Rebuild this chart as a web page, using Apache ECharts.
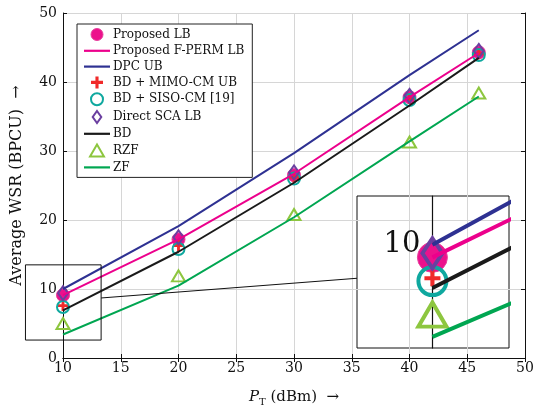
<!DOCTYPE html>
<html><head><meta charset="utf-8">
<script src="https://cdn.jsdelivr.net/npm/echarts@6/dist/echarts.min.js"></script>
<style>html,body{margin:0;padding:0;background:#fff}#c{width:535px;height:408px}</style>
</head><body><div id="c"></div>
<script>
// ---- data ----
const powers = [10, 20, 30, 40, 46];
const dpcUB = [10.0, 19.1, 29.7, 41.0, 47.5];
const fpermLB = [9.1, 17.2, 26.7, 37.8, 44.2];
const proposedLB = [9.1, 17.2, 26.5, 37.8, 44.3];
const mimoUB = [7.6, 16.3, 26.2, 37.6, 44.1];
const sisoCM = [7.4, 15.8, 26.0, 37.4, 43.9];
const directSCA = [9.4, 17.5, 26.9, 38.0, 44.5];
const bd = [6.9, 15.4, 25.4, 36.6, 43.5];
const rzf = [5.0, 11.9, 20.8, 31.3, 38.4];
const zf = [3.4, 10.5, 20.4, 31.4, 37.9];
const xRange = [10, 50], xStep = 5;
const yRange = [0, 50], yStep = 10;
const spyX = [6.75, 13.3];
const spyY = [2.6, 13.5];
const spyLabel = [10];
const spyLinkMain = [13.3, 8.7];
const spyLinkInset = [6.75, 7.6];

const FONT = 'DejaVu Serif';
const crossPath = 'path://M-1.3,-5H1.3V-1.3H5V1.3H1.3V5H-1.3V1.3H-5V-1.3H-1.3Z';
const triPath = 'path://M0,-5L5.8,5H-5.8Z';
const diaPath = 'path://M0,-7L5,0L0,7L-5,0Z';
const linePath = 'path://M0,0H26V2.2H0Z';
function pts(arr) { return powers.map((p, i) => [p, arr[i]]); }

const specs = [
  {name: 'Proposed LB', kind: 'marker', data: proposedLB, symbol: 'circle', icon: 'circle', size: [13, 13], isize: [30, 30], fill: '#ec118c', stroke: '#e8409e', bw: 1, ibw: 1},
  {name: 'Proposed F-PERM LB', kind: 'line', data: fpermLB, color: '#ec008c'},
  {name: 'DPC UB', kind: 'line', data: dpcUB, color: '#2e3192'},
  {name: 'BD + MIMO-CM UB', kind: 'marker', data: mimoUB, symbol: crossPath, icon: crossPath, size: [11, 11], isize: [16, 16], fill: '#f02a2a', stroke: '#f02a2a', bw: 0, ibw: 0},
  {name: 'BD + SISO-CM [19]', kind: 'marker', data: sisoCM, symbol: 'circle', icon: 'circle', size: [12, 12], isize: [28, 28], fill: 'rgba(0,0,0,0)', stroke: '#0fa89f', bw: 2, ibw: 4},
  {name: 'Direct SCA LB', kind: 'marker', data: directSCA, symbol: 'diamond', icon: diaPath, size: [10, 14], isize: [20, 30], fill: 'rgba(0,0,0,0)', stroke: '#6b3fa0', bw: 2, ibw: 4},
  {name: 'BD', kind: 'line', data: bd, color: '#1a1a1a'},
  {name: 'RZF', kind: 'marker', data: rzf, symbol: 'triangle', icon: triPath, size: [13, 11], isize: [28, 24], fill: 'rgba(0,0,0,0)', stroke: '#8dc63f', bw: 2, ibw: 4},
  {name: 'ZF', kind: 'line', data: zf, color: '#00a651'}
];

function makeSeries(s, inset) {
  const base = {
    name: s.name,
    xAxisIndex: inset ? 2 : 0,
    yAxisIndex: inset ? 2 : 0,
    data: pts(s.data),
    silent: true,
    animation: false,
    clip: true
  };
  if (s.kind === 'line') {
    return Object.assign(base, {
      type: 'line', symbol: 'none', showSymbol: false,
      lineStyle: {color: s.color, width: inset ? 4 : 2},
      itemStyle: {color: s.color}
    });
  }
  return Object.assign(base, {
    type: 'scatter', symbol: s.symbol, symbolKeepAspect: true,
    symbolSize: inset ? s.isize : s.size,
    itemStyle: {color: s.fill, borderColor: s.stroke, borderWidth: inset ? s.ibw : s.bw, opacity: 1}
  });
}

const series = specs.map(s => makeSeries(s, false)).concat(specs.map(s => makeSeries(s, true)));

const tickFont = {fontFamily: FONT, fontSize: 14, color: '#111'};

const legendData = specs.map(s => s.kind === 'line'
  ? {name: s.name, icon: linePath, itemStyle: {color: s.color, borderWidth: 0}}
  : {name: s.name, icon: s.icon, itemStyle: {color: s.fill, borderColor: s.stroke, borderWidth: s.bw}});

const chart = echarts.init(document.getElementById('c'), null, {renderer: 'canvas'});
chart.setOption({
  backgroundColor: '#fff',
  animation: false,
  textStyle: {fontFamily: FONT},
  grid: [
    {left: 63, right: 10, top: 13, bottom: 50, show: false, outerBoundsMode: 'none', containLabel: false},
    {left: 357, top: 196, width: 152, height: 152, show: true, borderColor: '#111', borderWidth: 1, backgroundColor: 'rgba(0,0,0,0)', outerBoundsMode: 'none', containLabel: false}
  ],
  legend: {
    orient: 'vertical', left: 77, top: 24,
    padding: [4, 8, 4, 7],
    itemWidth: 26, itemHeight: 12, itemGap: 3.8,
    symbolKeepAspect: true,
    backgroundColor: '#fff', borderColor: '#222', borderWidth: 1, borderRadius: 0,
    textStyle: {fontFamily: FONT, fontSize: 12, color: '#111', padding: [0, 0, 0, -2]},
    data: legendData,
    selectedMode: false
  },
  xAxis: [
    {type: 'value', gridIndex: 0, min: xRange[0], max: xRange[1], interval: xStep, position: 'bottom',
     name: '{i|P}{s|T} (dBm)  →', nameLocation: 'middle', nameGap: 30,
     nameTextStyle: {fontFamily: FONT, fontSize: 15, color: '#111',
       rich: {i: {fontFamily: FONT, fontSize: 15, fontStyle: 'italic', color: '#111'},
              s: {fontFamily: FONT, fontSize: 10, color: '#111', padding: [9, 0, 0, 0]}}},
     axisLine: {show: true, lineStyle: {color: '#111', width: 1}},
     axisTick: {show: true, inside: true, length: 4, lineStyle: {color: '#111'}},
     axisLabel: Object.assign({margin: 3}, tickFont),
     splitLine: {show: true, lineStyle: {color: '#d6d6d6', width: 1}}},
    {type: 'value', gridIndex: 0, min: xRange[0], max: xRange[1], interval: xStep, position: 'top',
     axisLine: {show: true, lineStyle: {color: '#111', width: 1}},
     axisTick: {show: true, inside: true, length: 4, lineStyle: {color: '#111'}},
     axisLabel: {show: false}, splitLine: {show: false}},
    {type: 'value', gridIndex: 1, min: spyX[0], max: spyX[1], show: false}
  ],
  yAxis: [
    {type: 'value', gridIndex: 0, min: yRange[0], max: yRange[1], interval: yStep, position: 'left',
     name: 'Average WSR (BPCU)  →', nameLocation: 'middle', nameGap: 38, nameRotate: 90,
     nameTextStyle: {fontFamily: FONT, fontSize: 16, color: '#111'},
     axisLine: {show: true, lineStyle: {color: '#111', width: 1}},
     axisTick: {show: true, inside: true, length: 4, lineStyle: {color: '#111'}},
     axisLabel: Object.assign({margin: 6}, tickFont),
     splitLine: {show: true, lineStyle: {color: '#d6d6d6', width: 1}}},
    {type: 'value', gridIndex: 0, min: yRange[0], max: yRange[1], interval: yStep, position: 'right',
     axisLine: {show: true, lineStyle: {color: '#111', width: 1}},
     axisTick: {show: true, inside: true, length: 4, lineStyle: {color: '#111'}},
     axisLabel: {show: false}, splitLine: {show: false}},
    {type: 'value', gridIndex: 1, min: spyY[0], max: spyY[1], position: 'left', offset: 0,
     axisLine: {show: true, onZero: false, lineStyle: {color: '#111', width: 1.2}},
     axisTick: {show: false},
     axisLabel: {show: true, customValues: spyLabel, fontFamily: FONT, fontSize: 29, color: '#111', margin: 12, padding: [10, 0, 0, 0]},
     splitLine: {show: false}}
  ],
  series: series
});

// spy annotations placed through the library's own scales
const insetGridLeft = 357;
const axisPx = chart.convertToPixel({xAxisIndex: 2, yAxisIndex: 2}, [spyLabel[0], spyY[0]])[0];
const r0 = chart.convertToPixel({gridIndex: 0}, [spyX[0], spyY[1]]);
const r1 = chart.convertToPixel({gridIndex: 0}, [spyX[1], spyY[0]]);
const lA = chart.convertToPixel({gridIndex: 0}, spyLinkMain);
const lB = chart.convertToPixel({xAxisIndex: 2, yAxisIndex: 2}, spyLinkInset);
chart.setOption({
  yAxis: [{}, {}, {offset: -(axisPx - insetGridLeft)}],
  graphic: [
    {type: 'rect', shape: {x: r0[0], y: r0[1], width: r1[0] - r0[0], height: r1[1] - r0[1]},
     style: {fill: 'none', stroke: '#111', lineWidth: 1}, z: 100, silent: true},
    {type: 'line', shape: {x1: lA[0], y1: lA[1], x2: lB[0], y2: lB[1]},
     style: {stroke: '#111', lineWidth: 1}, z: 100, silent: true}
  ]
});
</script>
</body></html>
